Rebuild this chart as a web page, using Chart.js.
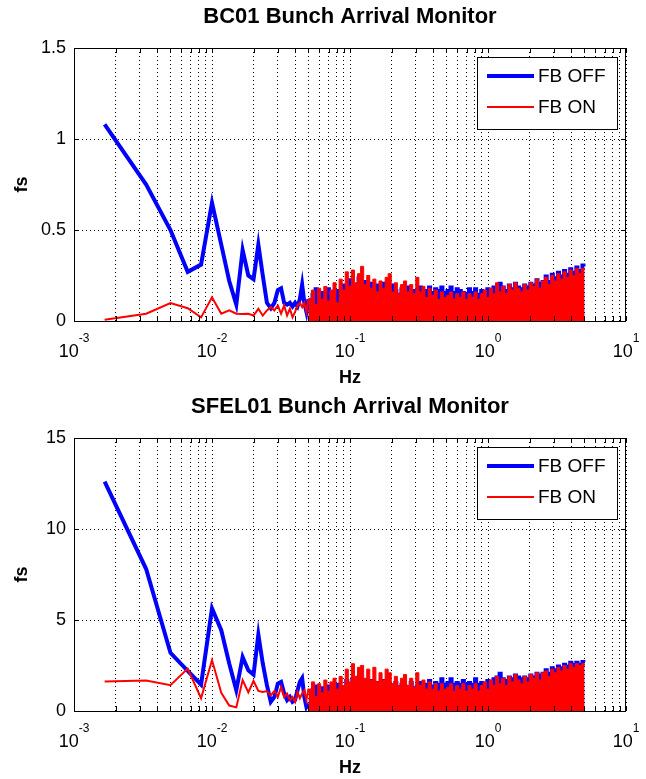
<!DOCTYPE html>
<html>
<head>
<meta charset="utf-8">
<title>Bunch Arrival Monitor</title>
<script src="https://cdn.jsdelivr.net/npm/chart.js@4.4.0/dist/chart.umd.min.js"></script>
<style>
    body { margin: 0; background: #fff; overflow: hidden; }
    .plot { width: 646px; height: 390px; }
</style>
</head>
<body>
<div class="plot"><canvas id="bc01Chart" width="646" height="390"></canvas></div>
<div class="plot"><canvas id="sfel01Chart" width="646" height="390"></canvas></div>
<script>
// frequencies (Hz): first 30 spectral lines, then a thinned grid for the dense part
var lowFreq = [0.001667, 0.003333, 0.005, 0.006667, 0.008333, 0.01, 0.01167, 0.01333, 0.015, 0.01667,
    0.01833, 0.02, 0.02167, 0.02333, 0.025, 0.02667, 0.02833, 0.03, 0.03167, 0.03333,
    0.035, 0.03667, 0.03833, 0.04, 0.04167, 0.04333, 0.045, 0.04667, 0.04833, 0.05];

var bandFreq = [0.05, 0.0526, 0.0554, 0.0583, 0.0613, 0.0646, 0.068, 0.0715, 0.0753, 0.0792,
    0.0834, 0.0878, 0.0924, 0.0972, 0.1023, 0.1077, 0.1134, 0.1193, 0.1256, 0.1322,
    0.1391, 0.1464, 0.1541, 0.1622, 0.1707, 0.1797, 0.1891, 0.199, 0.2095, 0.2205,
    0.232, 0.2442, 0.257, 0.2705, 0.2848, 0.2997, 0.3155, 0.332, 0.3495, 0.3678,
    0.3871, 0.4075, 0.4289, 0.4514, 0.4751, 0.5, 0.5263, 0.5539, 0.583, 0.6136,
    0.6459, 0.6798, 0.7155, 0.7531, 0.7926, 0.8342, 0.878, 0.9241, 0.9727, 1.0238,
    1.0776, 1.1342, 1.1938, 1.2566, 1.3226, 1.3921, 1.4652, 1.5422, 1.6232, 1.7085,
    1.7983, 1.8927, 1.9922, 2.0968, 2.207, 2.323, 2.445, 2.5734, 2.7087, 2.851,
    3.0008, 3.1584, 3.3244, 3.499, 3.6829, 3.8764, 4.0801, 4.2944, 4.52, 4.7575, 5.0];

var decades = [0.001, 0.01, 0.1, 1, 10];
var decadeExp = ["-3", "-2", "-1", "0", "1"];
var minorMult = [1, 2, 3, 4, 5, 6, 7, 8, 9];
var seriesNames = ["FB OFF", "FB ON"];

// BC01 (fs)
var bc01OffLow = [1.08, 0.75, 0.5, 0.27, 0.31, 0.65, 0.42, 0.22, 0.09, 0.39,
    0.25, 0.23, 0.42, 0.25, 0.1, 0.07, 0.1, 0.17, 0.18, 0.1,
    0.09, 0.1, 0.08, 0.1, 0.08, 0.12, 0.2, 0.1, 0.05, 0.12];
var bc01OnLow = [0.007, 0.04, 0.098, 0.07, 0.02, 0.13, 0.04, 0.058, 0.04, 0.038,
    0.04, 0.03, 0.067, 0.03, 0.058, 0.076, 0.058, 0.085, 0.04, 0.085,
    0.03, 0.067, 0.02, 0.05, 0.085, 0.1, 0.076, 0.1, 0.05, 0.12];
var bc01OffBand = [0.12, 0.15, 0.18, 0.11, 0.16, 0.1, 0.18, 0.12, 0.13, 0.17,
    0.13, 0.2, 0.16, 0.23, 0.19, 0.18, 0.24, 0.2, 0.22, 0.17,
    0.21, 0.16, 0.2, 0.17, 0.21, 0.18, 0.16, 0.2, 0.17, 0.15,
    0.18, 0.16, 0.19, 0.15, 0.17, 0.16, 0.19, 0.16, 0.17, 0.19,
    0.16, 0.18, 0.17, 0.19, 0.16, 0.17, 0.19, 0.16, 0.18, 0.17,
    0.16, 0.15, 0.18, 0.16, 0.18, 0.15, 0.17, 0.16, 0.18, 0.17,
    0.19, 0.18, 0.21, 0.19, 0.17, 0.2, 0.18, 0.21, 0.19, 0.18,
    0.2, 0.19, 0.21, 0.2, 0.23, 0.21, 0.22, 0.25, 0.22, 0.26,
    0.24, 0.27, 0.25, 0.28, 0.26, 0.29, 0.27, 0.3, 0.28, 0.31, 0.3];
var bc01OnBand = [0.12, 0.17, 0.09, 0.18, 0.12, 0.19, 0.11, 0.17, 0.21, 0.1,
    0.23, 0.17, 0.27, 0.19, 0.28, 0.21, 0.26, 0.3, 0.2, 0.25,
    0.18, 0.23, 0.16, 0.22, 0.18, 0.24, 0.26, 0.16, 0.21, 0.15,
    0.2, 0.22, 0.16, 0.2, 0.15, 0.24, 0.16, 0.19, 0.13, 0.18,
    0.14, 0.17, 0.12, 0.16, 0.13, 0.14, 0.16, 0.12, 0.15, 0.13,
    0.16, 0.12, 0.15, 0.13, 0.16, 0.12, 0.15, 0.17, 0.13, 0.18,
    0.15, 0.21, 0.16, 0.19, 0.15, 0.2, 0.17, 0.21, 0.18, 0.16,
    0.2, 0.17, 0.21, 0.19, 0.23, 0.18, 0.22, 0.24, 0.2, 0.25,
    0.22, 0.26, 0.23, 0.27, 0.24, 0.28, 0.25, 0.29, 0.26, 0.29, 0.28];

// SFEL01 (fs)
var sfel01OffLow = [12.6, 7.8, 3.2, 2.2, 1.45, 5.64, 4.44, 2.61, 1.14, 2.97,
    2.24, 2.0, 4.2, 2.61, 1.42, 0.5, 0.77, 1.51, 1.6, 0.96,
    0.6, 0.77, 0.5, 0.6, 1.14, 1.6, 1.8, 0.77, 0.22, 0.4];
var sfel01OnLow = [1.62, 1.68, 1.42, 2.33, 0.7, 2.8, 1.0, 0.3, 0.2, 1.7,
    1.02, 1.65, 1.1, 1.05, 1.1, 0.86, 1.1, 0.77, 1.32, 0.77,
    0.96, 0.6, 0.77, 0.5, 1.05, 0.7, 0.96, 1.14, 0.6, 1.23];
var sfel01OffBand = [0.4, 1.2, 1.4, 0.8, 1.3, 0.9, 1.4, 1.0, 1.2, 1.5,
    1.1, 1.3, 1.7, 1.4, 1.8, 1.5, 1.9, 1.6, 1.7, 1.5,
    1.7, 1.4, 1.6, 1.5, 1.7, 1.4, 1.5, 1.4, 1.6, 1.3,
    1.5, 1.4, 1.3, 1.6, 1.3, 1.4, 1.6, 1.4, 1.5, 1.7,
    1.4, 1.6, 1.5, 1.8, 1.5, 1.6, 1.8, 1.5, 1.6, 1.5,
    1.7, 1.5, 1.6, 1.5, 1.8, 1.5, 1.6, 1.5, 1.7, 1.6,
    1.8, 1.9, 2.1, 1.8, 1.7, 1.9, 1.8, 2.0, 1.9, 1.8,
    1.9, 1.8, 2.0, 1.9, 2.1, 2.0, 2.1, 2.3, 2.1, 2.4,
    2.3, 2.5, 2.4, 2.6, 2.5, 2.7, 2.6, 2.7, 2.6, 2.75, 2.7];
var sfel01OnBand = [1.2, 1.6, 0.8, 1.5, 1.0, 1.7, 1.1, 1.6, 1.8, 1.2,
    1.9, 1.4, 2.3, 1.6, 2.6, 1.9, 2.4, 2.5, 1.8, 2.3,
    1.7, 2.4, 1.6, 2.1, 1.7, 2.3, 2.1, 1.5, 1.9, 1.4,
    1.8, 2.0, 1.4, 1.8, 1.3, 2.1, 1.4, 1.7, 1.2, 1.6,
    1.2, 1.5, 1.1, 1.5, 1.2, 1.3, 1.5, 1.1, 1.4, 1.2,
    1.5, 1.1, 1.4, 1.2, 1.5, 1.1, 1.4, 1.6, 1.2, 1.7,
    1.4, 1.9, 1.5, 1.8, 1.4, 1.9, 1.6, 2.0, 1.7, 1.5,
    1.9, 1.6, 2.0, 1.8, 2.1, 1.7, 2.1, 2.2, 1.9, 2.3,
    2.1, 2.4, 2.2, 2.5, 2.3, 2.6, 2.4, 2.6, 2.5, 2.6, 2.5];

var FONT = "'Liberation Sans', Arial, Helvetica, sans-serif";
Chart.defaults.font.family = FONT;
Chart.defaults.color = "#000";

// all grid positions 1..9 x 10^n (matlab minor grid)
var gridTicks = [];
for (var d = 0; d < decades.length - 1; d++) {
    minorMult.forEach(function (m) { gridTicks.push(+(decades[d] * m).toPrecision(3)); });
}
gridTicks.push(decades[decades.length - 1]);

function pairs(xs, ys) {
    return xs.map(function (x, i) { return { x: x, y: ys[i] }; });
}

// box, inner ticks, 10^n labels, title and legend like matlab
var matlabFrame = {
    id: "matlabFrame",
    afterDraw: function (chart, args, opts) {
        var ctx = chart.ctx;
        var a = chart.chartArea;
        var xs = chart.scales.x;
        var ys = chart.scales.y;
        ctx.save();
        ctx.strokeStyle = "#000";
        ctx.lineWidth = 1;

        ctx.beginPath();
        xs.ticks.forEach(function (t) {
            var x = Math.round(xs.getPixelForValue(t.value)) + 0.5;
            ctx.moveTo(x, a.bottom); ctx.lineTo(x, a.bottom - 5);
            ctx.moveTo(x, a.top); ctx.lineTo(x, a.top + 5);
        });
        ys.ticks.forEach(function (t) {
            var y = Math.round(ys.getPixelForValue(t.value)) + 0.5;
            ctx.moveTo(a.left, y); ctx.lineTo(a.left + 5, y);
            ctx.moveTo(a.right, y); ctx.lineTo(a.right - 5, y);
        });
        ctx.stroke();
        ctx.strokeRect(Math.round(a.left) + 0.5, Math.round(a.top) + 0.5,
            Math.round(a.right - a.left) - 1, Math.round(a.bottom - a.top));

        // x tick labels 10^n
        ctx.fillStyle = "#000";
        ctx.textAlign = "left";
        ctx.textBaseline = "alphabetic";
        decades.forEach(function (v, i) {
            var x = xs.getPixelForValue(v);
            ctx.font = "18px " + FONT;
            var wBase = ctx.measureText("10").width;
            ctx.font = "12px " + FONT;
            var wExp = ctx.measureText(decadeExp[i]).width;
            var left = x - (wBase + wExp) / 2;
            ctx.font = "18px " + FONT;
            ctx.fillText("10", left, a.bottom + 36);
            ctx.font = "12px " + FONT;
            ctx.fillText(decadeExp[i], left + wBase, a.bottom + 21);
        });

        // title
        ctx.font = "bold 22px " + FONT;
        ctx.textAlign = "center";
        ctx.textBaseline = "middle";
        ctx.fillText(opts.title, (a.left + a.right) / 2, 17);

        // legend
        var bx = a.right - 149, by = a.top + 9, bw = 140, bh = 72;
        ctx.fillStyle = "#fff";
        ctx.fillRect(bx, by, bw, bh);
        ctx.strokeRect(bx + 0.5, by + 0.5, bw, bh);
        ctx.font = "19px " + FONT;
        ctx.textAlign = "left";
        var rows = [by + 19, by + 50];
        chart.data.datasets.slice(0, 2).forEach(function (ds, i) {
            ctx.beginPath();
            ctx.strokeStyle = ds.borderColor;
            ctx.lineWidth = ds.borderWidth;
            ctx.moveTo(bx + 10, rows[i]);
            ctx.lineTo(bx + 57, rows[i]);
            ctx.stroke();
            ctx.fillStyle = "#000";
            ctx.fillText(ds.label, bx + 61, rows[i] + 1);
        });
        ctx.restore();
    }
};

function createChart(id, title, yMax, yStep, offLow, onLow, offBand, onBand) {
    var ctx = document.getElementById(id).getContext("2d");

    var myNewChart = new Chart(ctx, {
        type: "line",
        data: {
            datasets: [{
                label: seriesNames[0],
                data: pairs(lowFreq, offLow),
                borderColor: "#0000ff",
                borderWidth: 4,
                order: 3
            }, {
                label: seriesNames[1],
                data: pairs(lowFreq, onLow),
                borderColor: "#ff0000",
                borderWidth: 2,
                order: 1
            }, {
                label: seriesNames[0],
                data: pairs(bandFreq, offBand),
                borderColor: "#0000ff",
                backgroundColor: "#0000ff",
                borderWidth: 2,
                fill: "origin",
                stepped: true,
                order: 4
            }, {
                label: seriesNames[1],
                data: pairs(bandFreq, onBand),
                borderColor: "#ff0000",
                backgroundColor: "#ff0000",
                borderWidth: 1,
                fill: "origin",
                stepped: true,
                order: 2
            }]
        },
        options: {
            responsive: false,
            animation: false,
            events: [],
            elements: {
                point: { radius: 0 },
                line: { tension: 0 }
            },
            layout: { padding: { top: 48, right: 20, left: 0, bottom: 0 } },
            scales: {
                x: {
                    type: "logarithmic",
                    min: decades[0],
                    max: decades[decades.length - 1],
                    afterBuildTicks: function (scale) {
                        scale.ticks = gridTicks.map(function (v) { return { value: v }; });
                    },
                    afterFit: function (scale) { scale.height = 69; },
                    ticks: { display: false },
                    grid: { color: "#000", lineWidth: 1, drawTicks: false },
                    border: { display: false, dash: [1, 3] },
                    title: {
                        display: true,
                        text: "Hz",
                        font: { size: 18, weight: "bold" },
                        padding: { top: 0, bottom: 1 }
                    }
                },
                y: {
                    min: 0,
                    max: yMax,
                    afterFit: function (scale) { scale.width = 74; },
                    ticks: {
                        stepSize: yStep,
                        font: { size: 18 },
                        padding: 8,
                        color: "#000",
                        callback: function (v) { return String(+v.toFixed(2)); }
                    },
                    grid: { color: "#000", lineWidth: 1, drawTicks: false },
                    border: { display: false, dash: [1, 3] },
                    title: {
                        display: true,
                        text: "fs",
                        font: { size: 18, weight: "bold" },
                        padding: { top: 11, bottom: 0 }
                    }
                }
            },
            plugins: {
                legend: { display: false },
                tooltip: { enabled: false },
                matlabFrame: { title: title }
            }
        },
        plugins: [matlabFrame]
    });
}

createChart("bc01Chart", "BC01 Bunch Arrival Monitor", 1.5, 0.5, bc01OffLow, bc01OnLow, bc01OffBand, bc01OnBand);
createChart("sfel01Chart", "SFEL01 Bunch Arrival Monitor", 15, 5, sfel01OffLow, sfel01OnLow, sfel01OffBand, sfel01OnBand);
</script>
</body>
</html>
